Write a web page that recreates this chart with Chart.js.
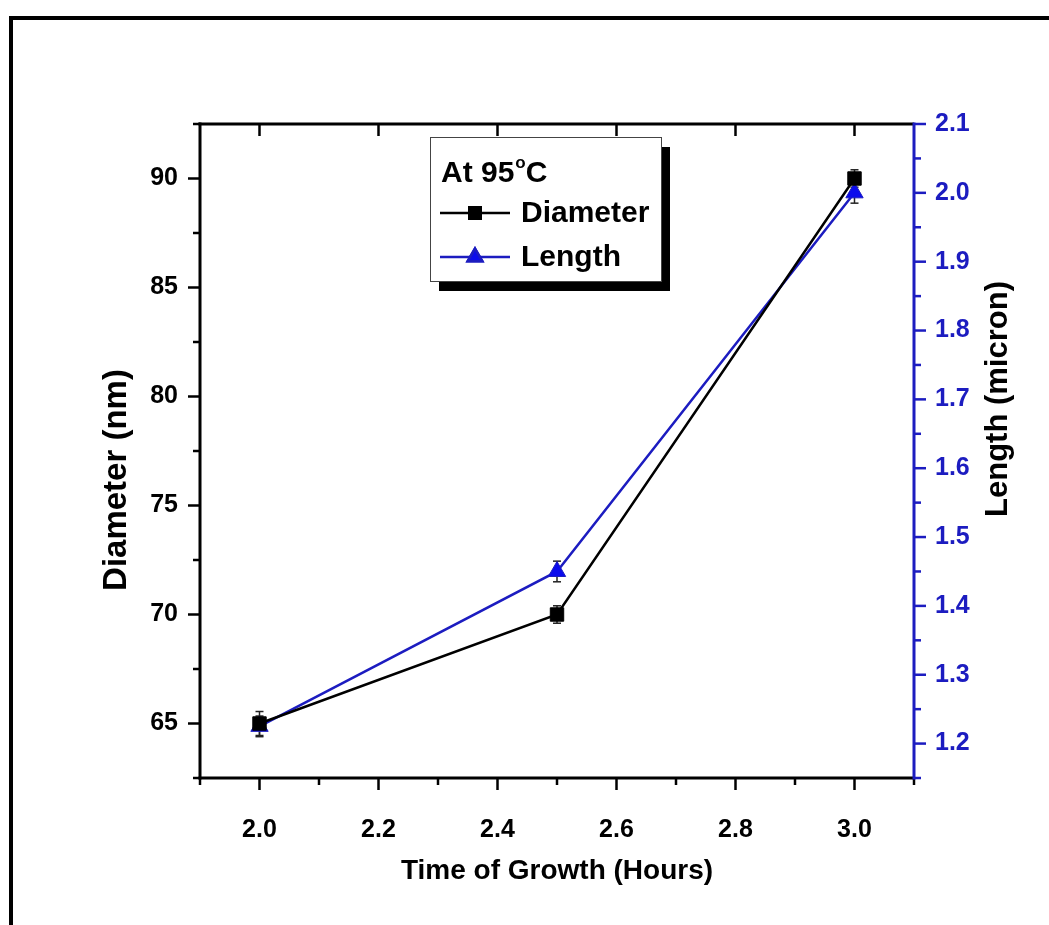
<!DOCTYPE html>
<html>
<head>
<meta charset="utf-8">
<title>Diameter and Length vs Time of Growth</title>
<script src="https://cdn.jsdelivr.net/npm/chart.js@4"></script>
<style>
  html, body { margin: 0; padding: 0; background: #fff; }
  #wrap { width: 1049px; height: 925px; }
</style>
</head>
<body>
<div id="wrap"><canvas id="growth-chart" width="1049" height="925"></canvas></div>
<script>
/* growth data at 95 C */
let hours = [2.0, 2.5, 3.0]
let diameterNm = [65, 70, 90]
let diameterErr = [0.55, 0.4, 0.4]
let lengthMicron = [1.225, 1.45, 2.0]
let lengthErr = [0.015, 0.015, 0.015]

/* tick labels */
let hourTicks = [2.0, 2.2, 2.4, 2.6, 2.8, 3.0]
let diameterTicks = [65, 70, 75, 80, 85, 90]
let lengthTicks = [1.2, 1.3, 1.4, 1.5, 1.6, 1.7, 1.8, 1.9, 2.0, 2.1]

let FONT = '"Liberation Sans", Arial, sans-serif'
let BLUE = '#1c1cc0'

// minor ticks sit halfway between the major ones (and half a step past the ends)
function minorsOf(ticks, min, max) {
    let step = ticks[1] - ticks[0]
    let out = []
    for (let i = -1; i < ticks.length; i++) {
        let v = ticks[0] + step * (i + 0.5)
        if (v >= min - 1e-9 && v <= max + 1e-9) out.push(v)
    }
    return out
}

function line(ctx, x1, y1, x2, y2) {
    ctx.beginPath()
    ctx.moveTo(x1, y1)
    ctx.lineTo(x2, y2)
    ctx.stroke()
}

// frame, axis lines, tick marks and error bars
let axesPlugin = {
    id: 'axesFrame',
    beforeDatasetsDraw(chart) {
        let ctx = chart.ctx
        let a = chart.chartArea
        let sx = chart.scales.x, sy = chart.scales.y, sy1 = chart.scales.y1
        ctx.save()

        // outer border
        ctx.fillStyle = '#000'
        ctx.fillRect(9, 16, 1040, 4)
        ctx.fillRect(9, 16, 4, 909)

        ctx.lineCap = 'butt'
        ctx.strokeStyle = '#000'
        ctx.lineWidth = 3

        // left, bottom, top axis lines
        line(ctx, a.left, a.top - 1.5, a.left, a.bottom + 1.5)
        line(ctx, a.left - 1.5, a.bottom, a.right, a.bottom)
        line(ctx, a.left - 1.5, a.top, a.right, a.top)

        ctx.lineWidth = 2.5
        // x ticks: outward at bottom, inward at top
        hourTicks.forEach(v => {
            let px = sx.getPixelForValue(v)
            line(ctx, px, a.bottom, px, a.bottom + 12)
            line(ctx, px, a.top, px, a.top + 12)
        })
        minorsOf(hourTicks, sx.min, sx.max).forEach(v => {
            let px = sx.getPixelForValue(v)
            line(ctx, px, a.bottom, px, a.bottom + 7)
        })
        // left y ticks
        diameterTicks.forEach(v => {
            let py = sy.getPixelForValue(v)
            line(ctx, a.left, py, a.left - 12, py)
        })
        minorsOf(diameterTicks, sy.min, sy.max).forEach(v => {
            let py = sy.getPixelForValue(v)
            line(ctx, a.left, py, a.left - 7, py)
        })

        // right axis in blue
        ctx.strokeStyle = BLUE
        ctx.lineWidth = 3
        line(ctx, a.right, a.top - 1.5, a.right, a.bottom + 1.5)
        ctx.lineWidth = 2.5
        lengthTicks.forEach(v => {
            let py = sy1.getPixelForValue(v)
            line(ctx, a.right, py, a.right + 12, py)
        })
        minorsOf(lengthTicks, sy1.min, sy1.max).forEach(v => {
            let py = sy1.getPixelForValue(v)
            line(ctx, a.right, py, a.right + 7, py)
        })

        // error bars, under the markers
        ctx.strokeStyle = '#222'
        ctx.lineWidth = 1.5
        let bars = [[diameterNm, diameterErr, sy], [lengthMicron, lengthErr, sy1]]
        bars.forEach(([vals, errs, scale]) => {
            vals.forEach((v, i) => {
                let px = sx.getPixelForValue(hours[i])
                let top = scale.getPixelForValue(v + errs[i])
                let bot = scale.getPixelForValue(v - errs[i])
                line(ctx, px, top, px, bot)
                line(ctx, px - 4, top, px + 4, top)
                line(ctx, px - 4, bot, px + 4, bot)
            })
        })
        ctx.restore()
    },
    afterDraw(chart) {
        let ctx = chart.ctx
        let a = chart.chartArea
        ctx.save()

        // axis titles
        ctx.fillStyle = '#000'
        ctx.textAlign = 'center'
        ctx.textBaseline = 'middle'
        ctx.font = 'bold 28px ' + FONT
        ctx.fillText('Time of Growth (Hours)', (a.left + a.right) / 2, 871)

        ctx.save()
        ctx.translate(117, 480)
        ctx.rotate(-Math.PI / 2)
        ctx.font = 'bold 33px ' + FONT
        ctx.fillText('Diameter (nm)', 0, 0)
        ctx.restore()

        ctx.save()
        ctx.translate(998, 399)
        ctx.rotate(-Math.PI / 2)
        ctx.font = 'bold 31px ' + FONT
        ctx.fillText('Length (micron)', 0, 0)
        ctx.restore()

        // legend box with drop shadow
        let bx = 430, by = 137, bw = 231, bh = 144
        ctx.fillStyle = '#000'
        ctx.fillRect(bx + 9, by + 10, bw, bh)
        ctx.fillStyle = '#fff'
        ctx.fillRect(bx, by, bw, bh)
        ctx.strokeStyle = '#444'
        ctx.lineWidth = 1
        ctx.strokeRect(bx + 0.5, by + 0.5, bw, bh)

        ctx.fillStyle = '#000'
        ctx.textAlign = 'left'
        ctx.textBaseline = 'alphabetic'
        ctx.font = 'bold 30px ' + FONT
        let tx = 441
        ctx.fillText('At 95', tx, 182)
        tx += ctx.measureText('At 95').width + 1
        ctx.font = 'bold 17px ' + FONT
        ctx.fillText('o', tx, 168)
        tx += ctx.measureText('o').width
        ctx.font = 'bold 30px ' + FONT
        ctx.fillText('C', tx, 182)

        let rows = [213, 257]
        chart.data.datasets.forEach((ds, i) => {
            let ry = rows[i]
            ctx.strokeStyle = ds.borderColor
            ctx.lineWidth = 2.5
            line(ctx, 440, ry, 510, ry)
            Chart.helpers.drawPoint(ctx, {
                pointStyle: ds.pointStyle,
                radius: ds.pointRadius * 0.85,
                borderWidth: 1
            }, 475, ry)
            ctx.fillStyle = ds.pointBackgroundColor
            ctx.strokeStyle = ds.borderColor
            ctx.fill()
            ctx.stroke()
            ctx.fillStyle = '#000'
            ctx.font = 'bold 30px ' + FONT
            ctx.textBaseline = 'middle'
            ctx.fillText(ds.label, 521, ry + 1)
        })
        ctx.restore()
    }
}

let ctx = document.querySelector('#growth-chart').getContext('2d')

let growthChart = new Chart(ctx, {
    type: 'scatter',
    data: {
        datasets: [
            {
                label: 'Diameter',
                data: hours.map((h, i) => ({ x: h, y: diameterNm[i] })),
                yAxisID: 'y',
                showLine: true,
                borderColor: '#000',
                borderWidth: 2.5,
                pointStyle: 'rect',
                pointRadius: 9.5,
                pointBackgroundColor: '#000',
                pointBorderColor: '#000',
                pointBorderWidth: 1
            },
            {
                label: 'Length',
                data: hours.map((h, i) => ({ x: h, y: lengthMicron[i] })),
                yAxisID: 'y1',
                showLine: true,
                borderColor: BLUE,
                borderWidth: 2.5,
                pointStyle: 'triangle',
                pointRadius: 10,
                pointBackgroundColor: '#0b0bec',
                pointBorderColor: BLUE,
                pointBorderWidth: 1
            }
        ]
    },
    options: {
        responsive: false,
        animation: false,
        devicePixelRatio: 1,
        layout: { padding: { top: 124, left: 0, right: 0, bottom: 0 } },
        plugins: {
            legend: { display: false },
            tooltip: { enabled: false }
        },
        scales: {
            x: {
                type: 'linear',
                min: 1.9,
                max: 3.1,
                grid: { display: false },
                border: { display: false },
                afterBuildTicks: scale => { scale.ticks = hourTicks.map(v => ({ value: v })) },
                afterFit: scale => { scale.height = 147 },
                ticks: {
                    padding: 29,
                    color: '#000',
                    font: { family: FONT, size: 25, weight: 'bold' },
                    callback: v => Number(v).toFixed(1)
                }
            },
            y: {
                position: 'left',
                min: 62.5,
                max: 92.5,
                grid: { display: false },
                border: { display: false },
                afterBuildTicks: scale => { scale.ticks = diameterTicks.map(v => ({ value: v })) },
                afterFit: scale => { scale.width = 200 },
                ticks: {
                    padding: 14,
                    color: '#000',
                    font: { family: FONT, size: 25, weight: 'bold' }
                }
            },
            y1: {
                position: 'right',
                min: 1.15,
                max: 2.1,
                grid: { display: false },
                border: { display: false },
                afterBuildTicks: scale => { scale.ticks = lengthTicks.map(v => ({ value: v })) },
                afterFit: scale => { scale.width = 135 },
                ticks: {
                    padding: 13,
                    color: BLUE,
                    font: { family: FONT, size: 25, weight: 'bold' },
                    callback: v => Number(v).toFixed(1)
                }
            }
        }
    },
    plugins: [axesPlugin]
})
</script>
</body>
</html>
